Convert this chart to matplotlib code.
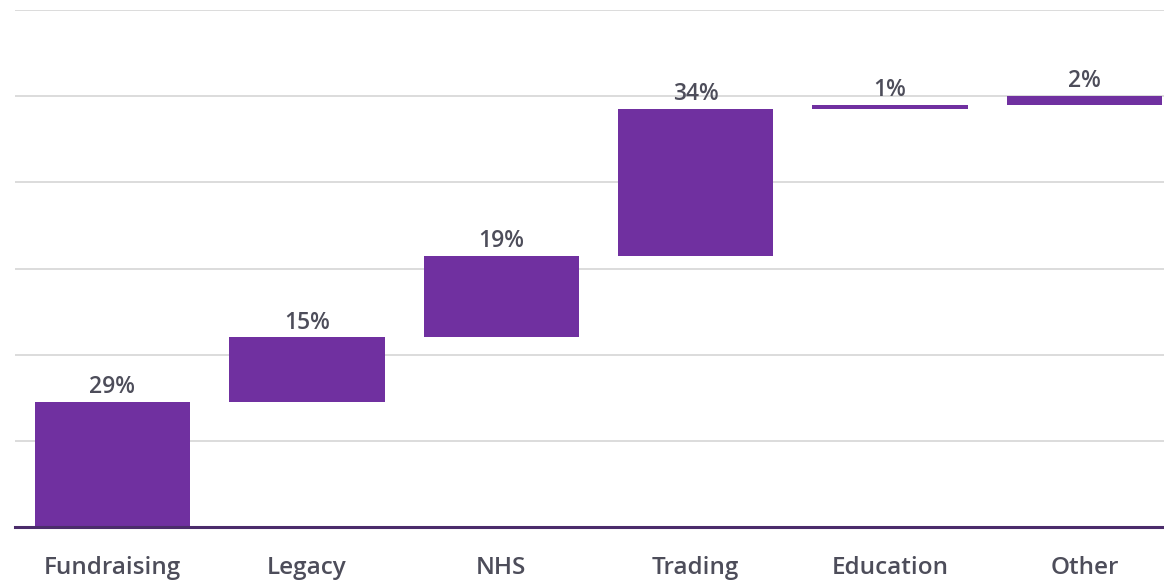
import matplotlib
matplotlib.use("Agg")
import matplotlib.pyplot as plt
import numpy as np

categories = ["Fundraising", "Legacy", "NHS", "Trading", "Education", "Other"]
values = [29, 15, 19, 34, 1, 2]
value_labels = ["29%", "15%", "19%", "34%", "1%", "2%"]

bar_color = "#7030a0"
text_color = "#4d4d5a"

plt.rcParams['font.family'] = ['Open Sans', 'DejaVu Sans']

fig = plt.figure(figsize=(11.64, 5.86), dpi=100)
W, H = 1164, 586
left_px, right_px = 15.3, 1164
bottom_px, top_px = 527, 10
ax = fig.add_axes([left_px / W, (H - bottom_px) / H,
                   (right_px - left_px) / W, (bottom_px - top_px) / H])

x = np.arange(len(categories))
bottoms = np.concatenate([[0], np.cumsum(values)[:-1]])
ax.bar(x, values, bottom=bottoms, width=0.8, color=bar_color, zorder=3)

for xi, b, v, lab in zip(x, bottoms, values, value_labels):
    ax.annotate(lab, (xi, b + v), xytext=(0, 2), textcoords="offset points",
                ha="center", va="bottom", fontsize=16.5, fontweight="semibold",
                color=text_color, zorder=4)

ax.set_xlim(-0.5, -0.5 + (right_px - left_px) / 194.4)
ax.set_ylim(0, 120)
ax.set_yticks([20, 40, 60, 80, 100, 120])
ax.yaxis.grid(True, color="#d9d9d9", linewidth=1.3, zorder=0)
ax.tick_params(axis="y", left=False, labelleft=False)
ax.set_xticks(x)
ax.set_xticklabels(categories, fontsize=17.5, fontweight="semibold", color=text_color)
ax.tick_params(axis="x", length=0, pad=21)
for s in ["top", "right", "left"]:
    ax.spines[s].set_visible(False)
ax.spines["bottom"].set_color("#4b2c6b")
ax.spines["bottom"].set_linewidth(2.2)
ax.spines["bottom"].set_zorder(5)

fig.savefig("out.png", dpi=100)
